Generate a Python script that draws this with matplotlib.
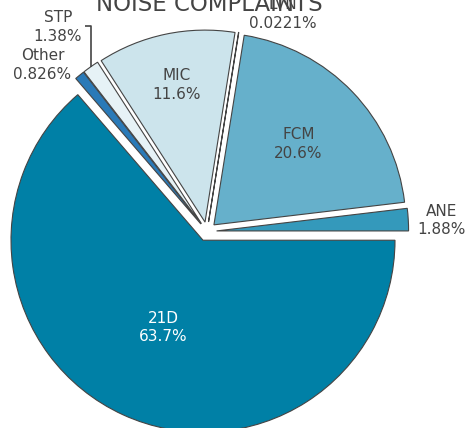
import matplotlib.pyplot as plt
import numpy as np

# slice data (counter-clockwise from 3 o'clock)
labels = ['ANE', 'FCM', 'LVN', 'MIC', 'STP', 'Other', '21D']
shares = [1.88, 20.6, 0.0221, 11.6, 1.38, 0.826, 63.7]
pct_text = ['1.88%', '20.6%', '0.0221%', '11.6%', '1.38%', '0.826%', '63.7%']
colors = ['#3499BB', '#66B0CB', '#9CCBDC', '#CCE4EC', '#E6F2F6', '#2A7AB8', '#0080A6']

W, H = 474, 428
cx, cy, R = 207, 231.5, 192   # pie centre / radius in pixels

fig = plt.figure(figsize=(W / 100, H / 100), dpi=100)
ax = fig.add_axes([0, 0, 1, 1])

wedges, _ = ax.pie(shares, colors=colors, startangle=0, counterclock=True,
                   explode=[0.05] * len(shares), radius=1,
                   wedgeprops=dict(edgecolor='#444444', linewidth=0.8))

ax.set_xlim(-cx / R, (W - cx) / R)
ax.set_ylim(-(H - cy) / R, cy / R)
ax.set_aspect('equal')
ax.axis('off')

# label placement: (radius from centre, angle nudge in degrees)
place = {
    'ANE': (1.225, -0.7),
    'FCM': (0.66, 0.0),
    'LVN': (1.20, -10.2),
    'MIC': (0.78, 0.0),
    'STP': (1.317, 0.9),
    'Other': (1.22, 5.4),
    '21D': (0.55, 0.0),
}

for w, lab, pt in zip(wedges, labels, pct_text):
    mid = np.deg2rad((w.theta1 + w.theta2) / 2)
    r, nudge = place[lab]
    a = mid + np.deg2rad(nudge)
    col = 'white' if lab == '21D' else '#444444'
    ax.text(r * np.cos(a), r * np.sin(a), lab + '\n' + pt, ha='center', va='center',
            fontsize=11, color=col, linespacing=1.3)

# leader line for STP
w = wedges[labels.index('STP')]
mid = np.deg2rad((w.theta1 + w.theta2) / 2)
sx, sy = 1.05 * np.cos(mid), 1.05 * np.sin(mid)
ly = (cy - 26) / R
ax.plot([sx, sx, sx - 0.031], [sy, ly, ly], color='#444444', linewidth=1.2,
        solid_capstyle='butt')

fig.text(cx / W + 0.005, 1 - 11 / H, 'NOISE COMPLAINTS', ha='center', va='baseline',
         fontsize=16.5, color='#444444')

fig.savefig('out.png', dpi=100)
